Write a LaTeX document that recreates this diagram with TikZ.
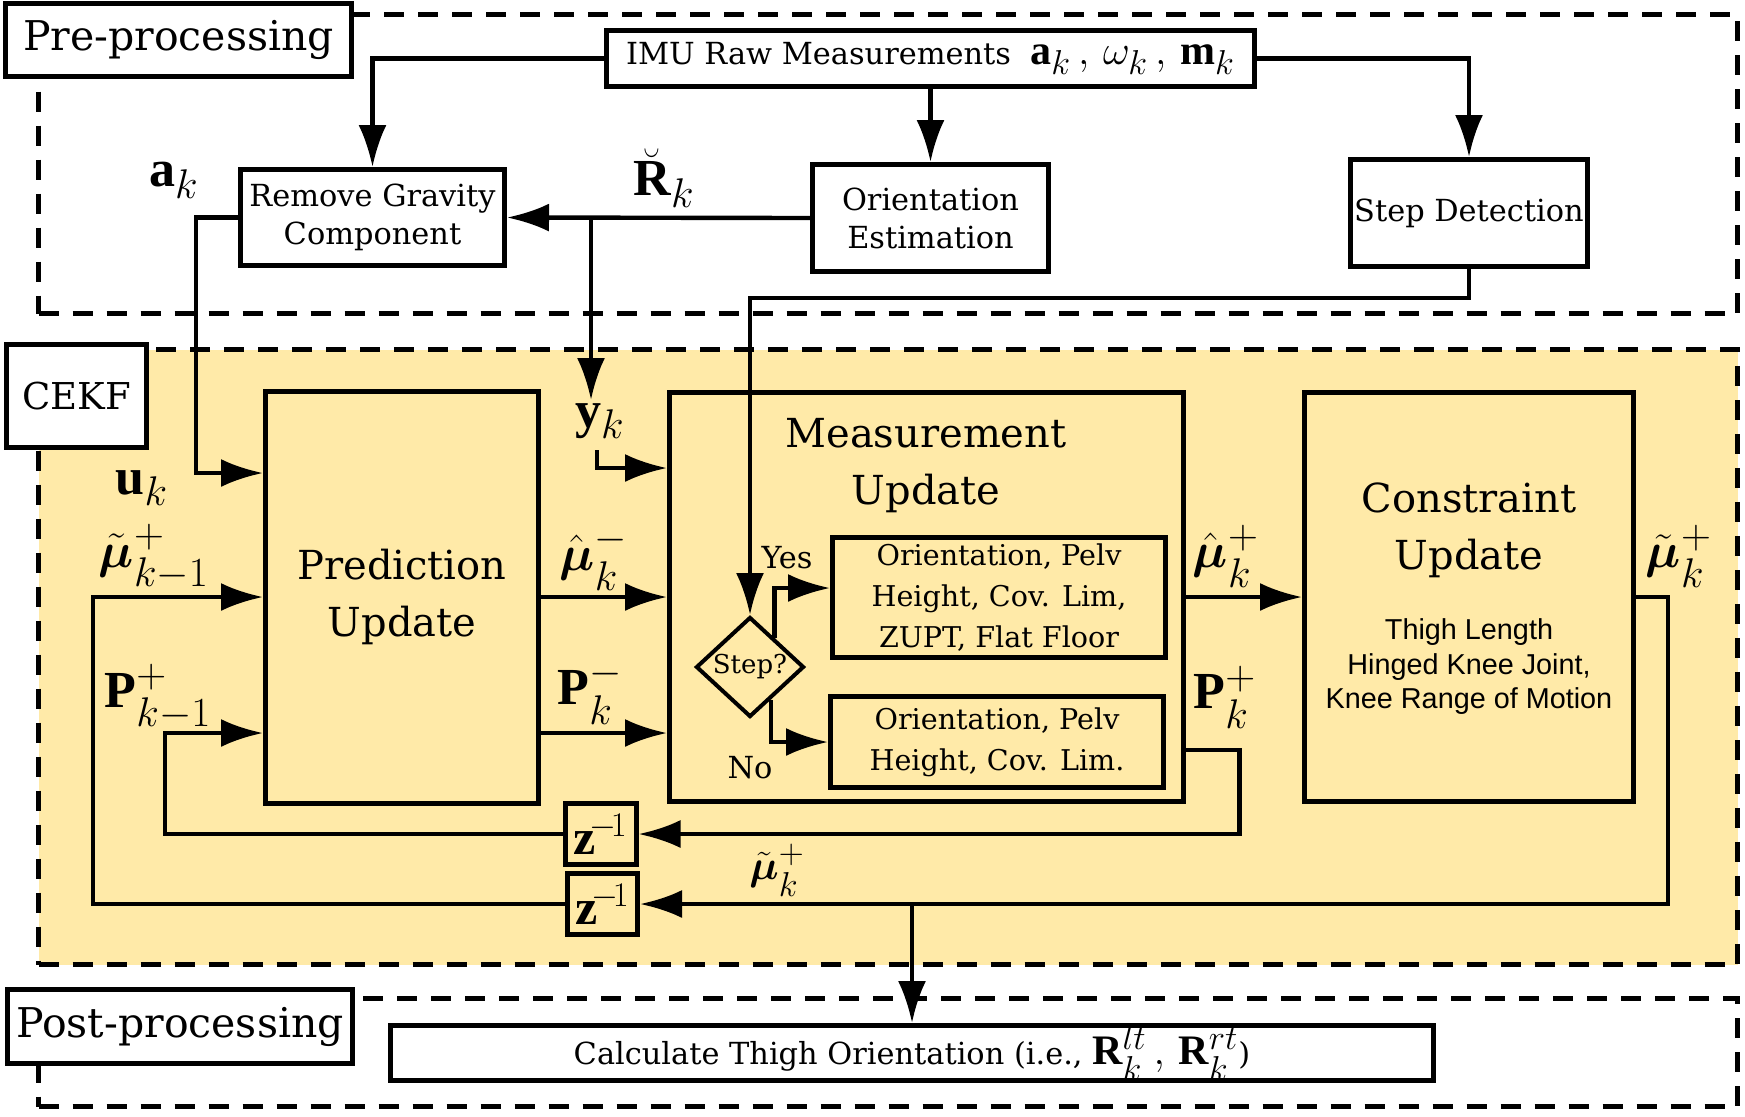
\documentclass[tikz,border=0pt]{standalone}
\usepackage{amsmath}
\usepackage{fontspec}
\setmainfont{DejaVu Serif}
\setmathrm{Liberation Serif}
\newfontfamily\sansthigh{Liberation Sans}
\usetikzlibrary{arrows.meta,shapes.geometric,calc}
\definecolor{cekfyellow}{RGB}{255,234,168}
\DeclareMathSizes{26}{26}{20}{15}
\DeclareMathSizes{25}{25}{19}{14}
\DeclareMathSizes{21}{21}{16}{12}
\newcommand{\fbody}{\fontsize{15.2}{19}\selectfont}
\newcommand{\fbig}{\fontsize{20}{28.5}\selectfont}
\newcommand{\fhead}{\fontsize{20.5}{24}\selectfont}
\newcommand{\finner}{\fontsize{14.3}{20.5}\selectfont}
\newcommand{\fthigh}{\sansthigh\fontsize{14.4}{17.25}\selectfont}
\newcommand{\flab}{\fontsize{26}{30}\selectfont}
\newcommand{\bmu}{\boldsymbol{\mu}}
\begin{document}
\begin{tikzpicture}[x=0.5pt,y=-0.5pt,
  sz/.style 2 args={minimum width=#1*0.5pt-2.5pt, minimum height=#2*0.5pt-2.5pt},
  region/.style={draw, line width=2.3pt, dash pattern=on 10pt off 7pt, inner sep=0pt},
  box/.style={draw, line width=2.5pt, align=center, inner sep=0pt, font=\fbody},
  wbox/.style={box, fill=white},
  zbox/.style={box, font=\fontsize{25}{26}\selectfont},
  lab/.style={inner sep=0pt, font=\flab},
  conn/.style={line width=2.2pt},
  arr/.style={conn, -{Latex[length=21pt,width=14pt]}}]
\useasboundingbox (0,0) rectangle (1745,1116);
% regions
\node[region, sz={1704}{304}] (pre) at (888,164) {};
\node[region, fill=cekfyellow, sz={1704}{620}] (cekf) at (888,657) {};
\node[region, sz={1704}{113}] (post) at (888,1052.5) {};
% region labels
\node[wbox, font=\fhead, sz={351}{78}] (preL) at (178.5,40) {Pre-processing};
\node[wbox, font=\fontsize{18.5}{22}\selectfont, sz={145}{108}] (cekfL) at (76.5,396) {CEKF};
\node[wbox, font=\fhead, sz={350}{79}] (postL) at (180,1026.5) {Post-processing};
% pre-processing boxes
\node[wbox, sz={653}{61}] (imu) at (930.5,58.5) {IMU Raw Measurements\ \ {\fontsize{21}{22}\selectfont$\mathbf{a}_k\,,\,\omega_k\,,\,\mathbf{m}_k$}};
\node[wbox, sz={269}{101}] (rg) at (372.5,217.5) {Remove Gravity\\Component};
\node[wbox, sz={241}{112}] (oe) at (930.5,218) {Orientation\\Estimation};
\node[wbox, sz={242}{112}] (sd) at (1469,213) {Step Detection};
% CEKF boxes
\node[box, font=\fbig, sz={278}{417}] (pred) at (402,597) {Prediction\\Update};
\node[box, sz={518.5}{414}] (meas) at (926.25,597) {};
\node[inner sep=0pt, align=center, font=\fbig] (measT) at (926,466) {Measurement\\Update};
\node[box, font=\finner, sz={338}{125}] (yes) at (999,597.5) {Orientation, Pelv\\Height, Cov. Lim,\\ZUPT, Flat Floor};
\node[box, font=\finner, sz={338}{96}] (no) at (997,742) {Orientation, Pelv\\Height, Cov. Lim.};
\node[diamond, draw, line width=2pt, inner sep=0pt, minimum width=54pt, minimum height=50pt, font=\fontsize{13}{14}\selectfont] (d) at (750,667) {Step?};
\node[inner sep=0pt, font=\fbody] (yesL) at (787,558) {Yes};
\node[inner sep=0pt, font=\fbody] (noL) at (750,768) {No};
\node[box, sz={334}{414}] (cons) at (1469,597) {};
\node[inner sep=0pt, align=center, font=\fbig] (consT) at (1469,530) {Constraint\\Update};
\node[inner sep=0pt, align=center, font=\fthigh] (consS) at (1469,667) {Thigh Length\\Hinged Knee Joint,\\Knee Range of Motion};
\node[zbox, sz={76}{66}] (z1) at (600.5,834) {$\mathbf{z}^{\!-\!1}$};
\node[zbox, sz={75}{66}] (z2) at (602.5,904) {$\mathbf{z}^{\!-\!1}$};
% post-processing
\node[wbox, sz={1048.5}{60}] (calc) at (912,1053) {Calculate Thigh Orientation (i.e., {\fontsize{21}{22}\selectfont$\mathbf{R}^{lt}_k\,,\,\mathbf{R}^{rt}_k$})};
% math labels
\node[lab] (akL) at (174,180) {$\mathbf{a}_k$};
\node[lab] (RkL) at (664,178) {$\breve{\mathbf{R}}_k$};
\node[lab] (ykL) at (600,421) {$\mathbf{y}_k$};
\node[lab] (ukL) at (142,488) {$\mathbf{u}_k$};
\node[lab] (mupL) at (154,557) {$\tilde{\bmu}^{+}_{k-1}$};
\node[lab] (PpL) at (158,697) {$\mathbf{P}^{+}_{k-1}$};
\node[lab] (mumL) at (594,558) {$\hat{\bmu}^{-}_{k}$};
\node[lab] (PmL) at (590,692) {$\mathbf{P}^{-}_{k}$};
\node[lab] (muhpL) at (1226,556) {$\hat{\bmu}^{+}_{k}$};
\node[lab] (PkpL) at (1225,697) {$\mathbf{P}^{+}_{k}$};
\node[lab] (mutL) at (1679,556) {$\tilde{\bmu}^{+}_{k}$};
\node[lab, font=\fontsize{21}{22}\selectfont] (mutL2) at (777,870) {$\tilde{\bmu}^{+}_{k}$};
% coordinates
\coordinate (rb) at (591,218);
\coordinate (ytip) at (591,400);
\coordinate (yk0) at (597,450);
\coordinate (pa) at ([yshift=-68pt]pred.east);
\coordinate (pb) at ([yshift=-76.5pt]meas.east);
\coordinate (pin) at ([yshift=-68pt]pred.west);
% connectors (pre-processing)
\draw[arr] (imu.west) -| (rg.north);
\draw[arr] (imu.south) -- (oe.north);
\draw[arr] (imu.east) -| (sd.north);
\draw[arr] (oe.west) -- (rg.east);
\draw[arr] (rb) -- (ytip);
\draw[arr] (yk0) |- ([yshift=64.5pt]meas.west);
\draw[arr] (rg.west) -- ++(-42,0) |- ([yshift=62pt]pred.west);
\draw[arr] (sd.south) -- ++(0,29) -| (d.north);
% CEKF connectors
\draw[arr] (pred.east) -- (pred.east -| meas.west);
\draw[arr] (pa) -- (pa -| meas.west);
\draw[arr] ($(d.north)!0.44!(d.east)$) |- ([yshift=4.75pt]yes.west);
\draw[arr] ($(d.south)!0.37!(d.east)$) |- (no.west);
\draw[arr] (meas.east) -- (meas.east -| cons.west);
\draw[arr] (pb) -- ++(54,0) |- (z1.east);
\draw[arr] (cons.east) -- ++(32,0) |- (z2.east);
\draw[arr] (z1.west) -| ($(pin)+(-98,0)$) -- (pin);
\draw[arr] (z2.west) -| ($(pred.west)+(-170,0)$) -- (pred.west);
\draw[arr] (calc.north |- z2.east) -- (calc.north);
\end{tikzpicture}
\end{document}
